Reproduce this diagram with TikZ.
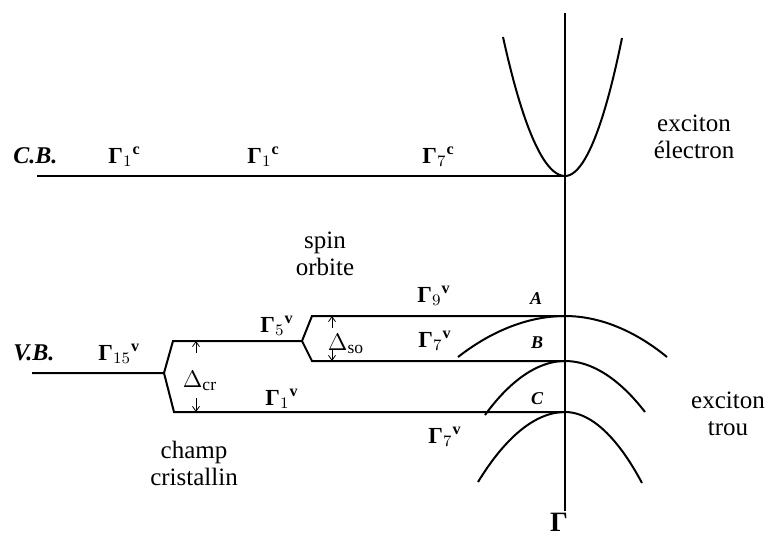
\documentclass[tikz,border=0pt]{standalone}
\usepackage{fontspec}
\setmainfont{Liberation Serif}
\usetikzlibrary{arrows.meta}
\newcommand{\Gam}[2]{\textbf{Γ}$_{#1}{}^{\mathbf{#2}}$}

\begin{document}
\begin{tikzpicture}[
  x=0.5pt,
  y=-0.5pt,
  every node/.style={inner sep=0pt, font=\fontsize{12.5}{13.5}\selectfont},
  level/.style={line width=1pt},
  band/.style={line width=1pt},
  axis/.style={line width=0.7pt},
  gap/.style={line width=0.4pt, -{Straight Barb[length=2.5pt,width=3.5pt]}},
  gam/.style={anchor=base west, font=\fontsize{11.5}{13}\selectfont},
  bandname/.style={anchor=base west, font=\fontsize{12}{13}\bfseries\itshape\selectfont},
  valley/.style={font=\fontsize{9}{10}\bfseries\itshape\selectfont},
  txt/.style={align=center}
]
  \useasboundingbox (0,0) rectangle (766,536);

  % points of the levels
  \coordinate (axtop) at (565,13);
  \coordinate (axbot) at (565,511);
  \coordinate (cbL) at (37,176);
  \coordinate (cbR) at (565,176);
  \coordinate (vbL) at (32,373);
  \coordinate (crF) at (164,373);
  \coordinate (crU) at (173,341);
  \coordinate (crD) at (174,412);
  \coordinate (soF) at (302,341);
  \coordinate (soU) at (312,316);
  \coordinate (soD) at (312,361);
  \coordinate (vA) at (565,316);
  \coordinate (vB) at (565,361);
  \coordinate (vC) at (565,412);

  \draw[axis] (axtop) -- (axbot);
  \draw[level] (cbL) -- (cbR);
  \draw[level] (vbL) -- (crF) -- (crU) -- (soF) -- (soU) -- (vA);
  \draw[level] (crF) -- (crD) -- (vC);
  \draw[level] (soF) -- (soD) -- (vB);

  % dispersions
  \draw[band] (503,37) parabola bend (cbR) (622,38);
  \draw[band] (458,357) parabola bend (vA) (667,357);
  \draw[band] (485,415) parabola bend (vB) (645,412);
  \draw[band] (478,482) parabola bend (vC) (642,483);

  % splittings
  \draw[gap] (196,353) -- (196,0 |- crU);
  \draw[gap] (196,398) -- (196,0 |- crD);
  \draw[gap] (332,328) -- (332,0 |- soU);
  \draw[gap] (332,349) -- (332,0 |- soD);
  \node (dcr) at (200,381) {$\Delta_{\mathrm{cr}}$};
  \node (dso) at (346,344) {$\Delta_{\mathrm{so}}$};

  \node[bandname] (cb) at (13,163) {C.B.};
  \node[bandname] (vb) at (13,360) {V.B.};

  \node[gam] (g1c) at (108,163) {\Gam{1}{c}};
  \node[gam] (g1cb) at (247,163) {\Gam{1}{c}};
  \node[gam] (g7c) at (422,163) {\Gam{7}{c}};
  \node[gam] (g15v) at (98,360) {\Gam{15}{v}};
  \node[gam] (g5v) at (260,332) {\Gam{5}{v}};
  \node[gam] (g1v) at (265,405) {\Gam{1}{v}};
  \node[gam] (g9v) at (417,302) {\Gam{9}{v}};
  \node[gam] (g7v) at (418,347) {\Gam{7}{v}};
  \node[gam] (g7vb) at (428,443) {\Gam{7}{v}};

  \node[valley] (lA) at (536,299) {A};
  \node[valley] (lB) at (537,343) {B};
  \node[valley] (lC) at (537,399) {C};

  \node[txt] (so) at (325,254) {spin\\orbite};
  \node[txt] (cf) at (194,463) {champ\\cristallin};
  \node[txt] (exe) at (694,137) {exciton\\électron};
  \node[txt] (exh) at (728,414) {exciton\\trou};
  \node[font=\fontsize{14}{15}\bfseries] (gam) at (559,522) {Γ};
\end{tikzpicture}
\end{document}
